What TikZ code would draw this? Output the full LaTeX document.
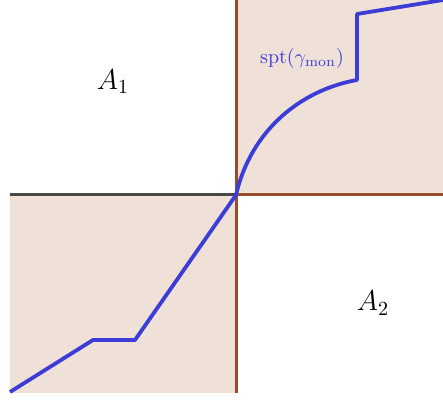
\documentclass[tikz,border=0pt]{standalone}
\usepackage{amsmath, amssymb}
\usepackage{tikz}
\usepackage{xcolor}

\definecolor{regionfill}{RGB}{239,225,216}
\definecolor{edgebrown}{RGB}{150,78,42}
\definecolor{sptblue}{RGB}{60,60,215}
\definecolor{axisgray}{RGB}{72,72,72}

\begin{document}
\begin{tikzpicture}[x=5pt, y=5pt,
        edge/.style={line width=1.5pt, edgebrown},
        support/.style={line width=1.9pt, sptblue, line join=round}]
        \useasboundingbox (-23.6,-20.5) rectangle (20.7,19.5);

        % shaded quadrants
        \fill[regionfill] (0,0) rectangle (20.7,19.5);
        \fill[regionfill] (-22.6,-19.8) rectangle (0,0);

        % boundary lines
        \coordinate (O) at (0,0);
        \draw[line width=1.5pt, axisgray] (-22.6,0) -- (O);
        \draw[edge] (O) -- (20.7,0);
        \draw[edge] (0,19.5) -- (0,-19.8);

        % support of the monotone plan
        \coordinate (p0) at (-22.6,-19.7);
        \coordinate (p1) at (-14.3,-14.5);
        \coordinate (p2) at (-10.1,-14.5);
        \coordinate (q1) at (12.1,11.5);
        \coordinate (q2) at (12.1,18.1);
        \coordinate (q3) at (20.7,19.5);
        \draw[support] (p0) -- (p1) -- (p2) -- (O)
            .. controls (1.5,6.5) and (6.5,10.5) .. (q1) -- (q2) -- (q3);

        \node (A1) at (-12.3,11.3) {\Large $A_1$};
        \node (A2) at (13.7,-10.8) {\Large $A_2$};
        \node[text=sptblue] (spt) at (6.6,13.6) {$\operatorname{spt}(\gamma_{\mathrm{mon}})$};
    \end{tikzpicture}
\end{document}
